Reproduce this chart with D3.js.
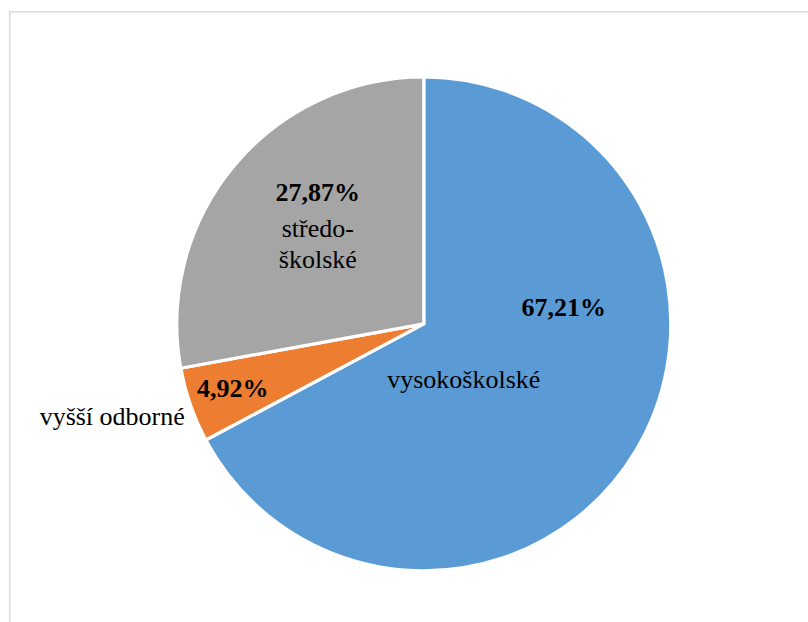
<!DOCTYPE html>
<html>
<head>
<meta charset="utf-8">
<script src="https://cdn.jsdelivr.net/npm/d3@7"></script>
<style>
  html, body { margin: 0; padding: 0; background: #fff; }
  svg { display: block; }
</style>
</head>
<body>
<svg id="chart" width="808" height="622"></svg>
<script>
// Education level shares (percent)
const categories = ["vysokoškolské", "vyšší odborné", "středo-školské"];
const values = [67.21, 4.92, 27.87];
const valueLabels = ["67,21%", "4,92%", "27,87%"];
const colors = ["#5B9BD5", "#ED7D31", "#A5A5A5"];

// Label placement, offsets from the pie centre
const labelLayout = [
  { value: [140, -8], name: [40, 64], nameLines: ["vysokoškolské"], anchor: "middle" },
  { value: [-191, 73], name: [-239, 101], nameLines: ["vyšší odborné"], anchor: "end" },
  { value: [-106, -123], name: [-106, -87], nameLines: ["středo-", "školské"], anchor: "middle" }
];

const width = 808, height = 622;
const cx = 423.8, cy = 323.9, radius = 247;
const fontFamily = "'Liberation Serif', 'Times New Roman', Times, serif";

const svg = d3.select("#chart");

// Chart frame
svg.append("rect")
  .attr("x", 9.75).attr("y", 11.75)
  .attr("width", 900).attr("height", 700)
  .attr("fill", "#fff")
  .attr("stroke", "#d9d9d9")
  .attr("stroke-width", 1.5);

const data = categories.map((c, i) => ({ name: c, value: values[i], i }));

const pie = d3.pie().sort(null).value(d => d.value);
const arc = d3.arc().innerRadius(0).outerRadius(radius);

const g = svg.append("g").attr("transform", `translate(${cx},${cy})`);

g.selectAll("path")
  .data(pie(data))
  .join("path")
  .attr("d", arc)
  .attr("fill", d => colors[d.data.i])
  .attr("stroke", "#fff")
  .attr("stroke-width", 3.2)
  .attr("stroke-linejoin", "miter");

const fontSize = 26;

// Percentage labels (bold)
g.selectAll("text.val")
  .data(data)
  .join("text")
  .attr("class", "val")
  .attr("x", d => labelLayout[d.i].value[0])
  .attr("y", d => labelLayout[d.i].value[1])
  .attr("text-anchor", "middle")
  .attr("font-family", fontFamily)
  .attr("font-size", fontSize)
  .attr("font-weight", "bold")
  .attr("fill", "#000")
  .text(d => valueLabels[d.i]);

// Category labels
g.selectAll("text.cat")
  .data(data)
  .join("text")
  .attr("class", "cat")
  .attr("x", d => labelLayout[d.i].name[0])
  .attr("y", d => labelLayout[d.i].name[1])
  .attr("text-anchor", d => labelLayout[d.i].anchor)
  .attr("font-family", fontFamily)
  .attr("font-size", fontSize)
  .attr("fill", "#000")
  .each(function (d) {
    const t = d3.select(this);
    labelLayout[d.i].nameLines.forEach((line, k) => {
      t.append("tspan")
        .attr("x", labelLayout[d.i].name[0])
        .attr("dy", k === 0 ? 0 : 31)
        .text(line);
    });
  });
</script>
</body>
</html>
